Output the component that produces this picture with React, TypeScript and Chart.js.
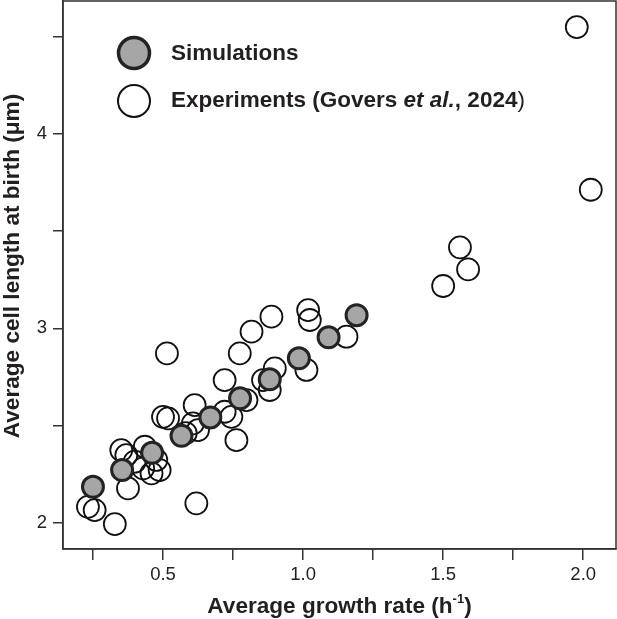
import React, { useEffect, useRef } from 'react';
import { Chart, registerables } from 'chart.js';

Chart.register(...registerables);

// ---------- data ----------
const simGrowth = [0.25, 0.354, 0.461, 0.566, 0.669, 0.775, 0.881, 0.985, 1.091, 1.191];
const simLength = [2.185, 2.271, 2.36, 2.447, 2.542, 2.64, 2.738, 2.846, 2.954, 3.068];

const expGrowth = [
  0.232, 0.256, 0.328, 0.375, 0.351, 0.369, 0.399, 0.435, 0.429, 0.459,
  0.488, 0.476, 0.5, 0.518, 0.619, 0.514, 0.774, 0.816, 0.887, 0.72,
  0.613, 0.607, 0.625, 0.72, 0.744, 0.762, 0.798, 0.857, 0.881, 0.899,
  1.012, 1.018, 1.024, 1.155, 1.5, 1.56, 1.589, 1.977, 2.027, 0.581,
];
const expLength = [
  2.082, 2.065, 1.993, 2.177, 2.374, 2.348, 2.314, 2.391, 2.28, 2.254,
  2.271, 2.323, 2.545, 2.537, 2.1, 2.871, 2.871, 2.983, 3.06, 2.734,
  2.605, 2.511, 2.477, 2.571, 2.545, 2.425, 2.631, 2.734, 2.683, 2.794,
  2.786, 3.094, 3.043, 2.957, 3.218, 3.417, 3.303, 4.55, 3.713, 2.461,
];

const xTickValues = [0.25, 0.5, 0.75, 1.0, 1.25, 1.5, 1.75, 2.0];
const xTickLabels = ['', '0.5', '', '1.0', '', '1.5', '', '2.0'];
const yTickValues = [2, 2.5, 3, 3.5, 4, 4.5];
const yTickLabels = ['2', '', '3', '', '4', ''];

const xTitleMain = 'Average growth rate (h';
const xTitleSup = '-1';
const xTitleEnd = ')';
const yTitle = 'Average cell length at birth (μm)';
const legendSim = 'Simulations';
const legendExpParts: [string, string][] = [
  ['Experiments (Govers ', 'bold'],
  ['et al.', 'italic bold'],
  [', 2024', 'bold'],
  [')', 'normal'],
];

// ---------- style ----------
const FONT = '"Liberation Sans", Arial, Helvetica, sans-serif';
const INK = '#231f20';
const AXIS = '#333333';
const SIM_FILL = '#a6a6a6';
const SIM_EDGE = '#232323';
const TITLE_SIZE = 22.6;
const LEGEND_SIZE = 22.5;

const framePlugin = {
  id: 'frame',
  beforeDatasetsDraw(chart: any) {
    const { ctx, chartArea } = chart;
    ctx.save();
    ctx.strokeStyle = AXIS;
    ctx.lineWidth = 1.5;
    ctx.strokeRect(chartArea.left, chartArea.top, chartArea.right - chartArea.left, chartArea.bottom - chartArea.top);
    ctx.restore();
  },
};

const textPlugin = {
  id: 'texts',
  afterDatasetsDraw(chart: any) {
    const { ctx, chartArea } = chart;
    ctx.save();
    // legend
    const mx = chartArea.left + 71;
    const y1 = chartArea.top + 52;
    const y2 = chartArea.top + 100;
    ctx.beginPath();
    ctx.arc(mx, y1, 15.5, 0, Math.PI * 2);
    ctx.fillStyle = SIM_FILL;
    ctx.fill();
    ctx.lineWidth = 3.5;
    ctx.strokeStyle = SIM_EDGE;
    ctx.stroke();
    ctx.beginPath();
    ctx.arc(mx, y2, 16, 0, Math.PI * 2);
    ctx.lineWidth = 2;
    ctx.strokeStyle = '#111';
    ctx.stroke();

    ctx.fillStyle = INK;
    ctx.textBaseline = 'middle';
    ctx.textAlign = 'left';
    const tx = chartArea.left + 108;
    ctx.font = `bold ${LEGEND_SIZE}px ${FONT}`;
    ctx.fillText(legendSim, tx, y1 + 1);
    let x = tx;
    for (const [t, st] of legendExpParts) {
      ctx.font = `${st} ${LEGEND_SIZE}px ${FONT}`;
      ctx.fillText(t, x, y2);
      x += ctx.measureText(t).width;
    }

    // x axis title with superscript
    ctx.font = `bold ${TITLE_SIZE}px ${FONT}`;
    const w1 = ctx.measureText(xTitleMain).width;
    ctx.font = `bold 13px ${FONT}`;
    const w2 = ctx.measureText(xTitleSup).width;
    ctx.font = `bold ${TITLE_SIZE}px ${FONT}`;
    const w3 = ctx.measureText(xTitleEnd).width;
    const total = w1 + w2 + w3;
    const cx = (chartArea.left + chartArea.right) / 2;
    const ty = 607;
    let sx = cx - total / 2;
    ctx.fillText(xTitleMain, sx, ty);
    sx += w1;
    ctx.font = `bold 13px ${FONT}`;
    ctx.fillText(xTitleSup, sx, ty - 8);
    sx += w2;
    ctx.font = `bold ${TITLE_SIZE}px ${FONT}`;
    ctx.fillText(xTitleEnd, sx, ty);

    // y axis title (rotated)
    ctx.translate(13, 266);
    ctx.rotate(-Math.PI / 2);
    ctx.textAlign = 'center';
    ctx.font = `bold ${TITLE_SIZE}px ${FONT}`;
    ctx.fillText(yTitle, 0, 0);
    ctx.restore();
  },
};

export default function App() {
  const ref = useRef<HTMLCanvasElement>(null);

  useEffect(() => {
    const simData = simGrowth.map((g, i) => ({ x: g, y: simLength[i] }));
    const expData = expGrowth.map((g, i) => ({ x: g, y: expLength[i] }));

    const chart = new Chart(ref.current as HTMLCanvasElement, {
      type: 'scatter',
      data: {
        datasets: [
          {
            label: 'Simulations',
            data: simData,
            order: 0,
            pointRadius: 10.5,
            pointHoverRadius: 10.5,
            pointBorderWidth: 3,
            pointBackgroundColor: SIM_FILL,
            pointBorderColor: SIM_EDGE,
          },
          {
            label: 'Experiments (Govers et al., 2024)',
            data: expData,
            order: 1,
            pointRadius: 11,
            pointHoverRadius: 11,
            pointBorderWidth: 1.8,
            pointBackgroundColor: 'rgba(255,255,255,0)',
            pointBorderColor: '#111',
          },
        ],
      },
      options: {
        animation: false,
        responsive: false,
        events: [],
        layout: { autoPadding: false, padding: { top: 1, right: 1, left: 0, bottom: 0 } },
        plugins: {
          legend: { display: false },
          tooltip: { enabled: false },
        },
        scales: {
          x: {
            type: 'linear',
            min: 0.143,
            max: 2.117,
            afterBuildTicks: (scale: any) => {
              scale.ticks = xTickValues.map((v) => ({ value: v }));
            },
            afterFit: (scale: any) => {
              scale.height = 70;
              scale.paddingLeft = 0;
              scale.paddingRight = 0;
              scale.paddingTop = 0;
              scale.paddingBottom = 0;
            },
            ticks: {
              autoSkip: false,
              maxRotation: 0,
              padding: 4,
              color: '#222',
              font: { family: FONT, size: 18.5 },
              callback: (_v: any, i: number) => xTickLabels[i],
            },
            grid: {
              drawOnChartArea: false,
              drawTicks: true,
              tickLength: 11,
              color: AXIS,
              lineWidth: 1.5,
            },
            border: { display: true, color: AXIS, width: 1.5 },
            title: { display: false },
          },
          y: {
            type: 'linear',
            min: 1.865,
            max: 4.684,
            afterBuildTicks: (scale: any) => {
              scale.ticks = yTickValues.map((v) => ({ value: v }));
            },
            afterFit: (scale: any) => {
              scale.width = 63;
              scale.paddingLeft = 0;
              scale.paddingRight = 0;
              scale.paddingTop = 0;
              scale.paddingBottom = 0;
            },
            ticks: {
              autoSkip: false,
              padding: 6,
              color: '#222',
              font: { family: FONT, size: 18.5 },
              callback: (_v: any, i: number) => yTickLabels[i],
            },
            grid: {
              drawOnChartArea: false,
              drawTicks: true,
              tickLength: 10,
              color: AXIS,
              lineWidth: 1.5,
            },
            border: { display: true, color: AXIS, width: 1.5 },
            title: { display: false },
          },
        },
      },
      plugins: [framePlugin, textPlugin],
    } as any);

    return () => chart.destroy();
  }, []);

  return (
    <div style={{ position: 'fixed', left: 0, top: 0, width: 617, height: 619, background: '#fff' }}>
      <canvas ref={ref} width={617} height={619} style={{ display: 'block', width: 617, height: 619 }} />
    </div>
  );
}
